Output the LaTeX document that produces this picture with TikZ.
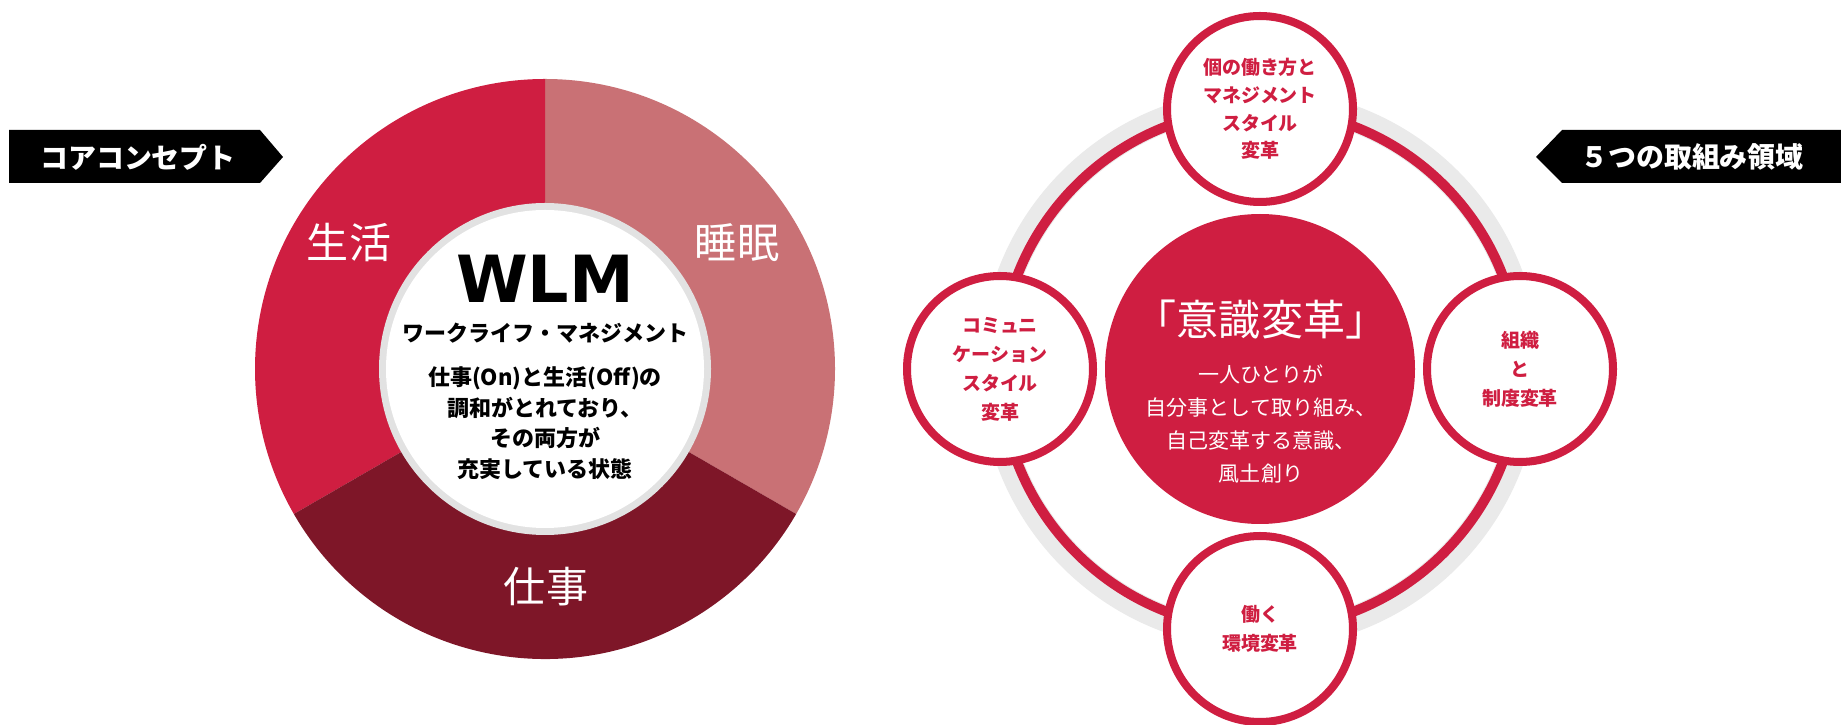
\documentclass[tikz,border=0pt]{standalone}
\usepackage{fontspec}
\newfontfamily\jp{Noto Sans CJK JP}
\newfontfamily\wlmfont{DejaVu Sans}
\definecolor{crim}{RGB}{207,30,65}
\definecolor{sleepc}{RGB}{201,113,117}
\definecolor{workc}{RGB}{126,22,40}
\definecolor{ringgray}{RGB}{234,234,234}
\definecolor{innerb}{RGB}{226,226,226}
\tikzset{
  seglabel/.style={text=white, inner sep=0pt, font=\jp\fontsize{59.8}{60}\selectfont},
  tagtext/.style={text=white, inner sep=0pt, font=\jp\bfseries\fontsize{39.8}{40}\selectfont},
  tagshape/.style={fill=black},
  corebody/.style={text=black, align=center, inner sep=0pt, font=\jp\bfseries\fontsize{31.3}{43.4}\selectfont},
  satellite/.style={circle, draw=crim, fill=white, line width=11.4pt, minimum size=9.3cm, inner sep=0pt,
     align=center, text=crim, font=\jp\bfseries\fontsize{27}{41.3}\selectfont},
  centerbody/.style={text=white, align=center, inner sep=0pt, font=\jp\fontsize{29.9}{46.5}\selectfont},
}
\begin{document}
\begin{tikzpicture}[x=0.05cm,y=0.05cm]
\useasboundingbox (0,0) rectangle (1841,725);
\fill[white] (0,0) rectangle (1841,725);
% tags
\fill[tagshape] (9,595) -- (260,595) -- (283,568) -- (260,542) -- (9,542) -- cycle;
\node[tagtext] (tagL) at (138,568) {コアコンセプト};
\fill[tagshape] (1841,595) -- (1562,595) -- (1536,568) -- (1562,542) -- (1841,542) -- cycle;
\node[tagtext] (tagR) at (1692,568) {５つの取組み領域};
% donut
\coordinate (D) at (545,356);
\fill[sleepc] (D) -- +(90:290) arc[start angle=90, end angle=-30, radius=290] -- cycle;
\fill[crim] (D) -- +(90:290) arc[start angle=90, end angle=210, radius=290] -- cycle;
\fill[workc] (D) -- +(210:290) arc[start angle=210, end angle=330, radius=290] -- cycle;
\fill[innerb] (D) circle[radius=166];
\fill[white] (D) circle[radius=159];
\node[seglabel] (life) at (349,482) {生活};
\node[seglabel] (sleep) at (737,482) {睡眠};
\node[seglabel] (work) at (546,138) {仕事};
\node[inner sep=0pt, font=\wlmfont\bfseries\fontsize{92.5}{92.5}\selectfont] (wlm) at (545,446.5) {WLM};
\node[corebody] (wlmsub) at (545,392) {ワークライフ・マネジメント};
\node[corebody] (wlmbody) at (545,302) {仕事(On)と生活(Off)の\\調和がとれており、\\その両方が\\充実している状態};
% right group
\coordinate (G) at (1260,356);
\draw[ringgray, line width=37pt] (G) circle[radius=267];
\draw[crim, line width=14.2pt] (G) circle[radius=260];
\node[circle, fill=crim, minimum size=15.5cm, inner sep=0pt] (core) at (G) {};
\node[text=white, inner sep=0pt, font=\jp\fontsize{59.8}{60}\selectfont] (coretitle) at (1261,405) {「意識変革」};
\node[centerbody] (corebody) at (1261,301) {一人ひとりが\\自分事として取り組み、\\自己変革する意識、\\風土創り};
\node[satellite, font=\jp\bfseries\fontsize{27}{39.4}\selectfont] (top) at (1260,616) {個の働き方と\\マネジメント\\スタイル\\変革};
\node[satellite] (left) at (1000,356) {コミュニ\\ケーション\\スタイル\\変革};
\node[satellite] (right) at (1520,356) {組織\\と\\制度変革};
\node[satellite] (bottom) at (1260,96) {働く\\環境変革};
\end{tikzpicture}
\end{document}
